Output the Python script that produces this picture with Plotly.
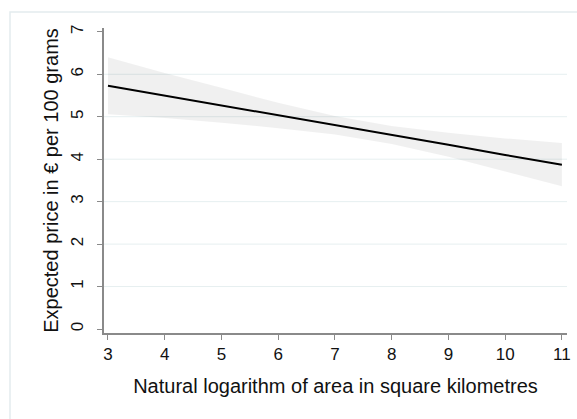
import plotly.graph_objects as go

# Data
x_vals = [3, 4, 5, 6, 7, 8, 9, 10, 11]
pred = [5.73, 5.50, 5.27, 5.03, 4.80, 4.57, 4.34, 4.10, 3.87]
ci_upper = [6.40, 6.03, 5.68, 5.33, 5.02, 4.78, 4.62, 4.49, 4.38]
ci_lower = [5.06, 4.97, 4.86, 4.73, 4.58, 4.36, 4.06, 3.71, 3.36]
x_ticks = [3, 4, 5, 6, 7, 8, 9, 10, 11]
y_ticks = [0, 1, 2, 3, 4, 5, 6, 7]
grid_vals = [1, 2, 3, 4, 5, 6]

W, H = 577, 419
L, R, T, B = 104, 10, 28, 86

fig = go.Figure()
fig.add_trace(go.Scatter(
    x=x_vals + x_vals[::-1], y=ci_upper + ci_lower[::-1],
    fill="toself", fillcolor="rgba(0,0,0,0.06)", line=dict(width=0),
    mode="lines", hoverinfo="skip", showlegend=False))
fig.add_trace(go.Scatter(
    x=x_vals, y=pred, mode="lines",
    line=dict(color="black", width=2), showlegend=False))

shapes = []
for g in grid_vals:
    shapes.append(dict(type="line", xref="paper", yref="y", x0=0, x1=1, y0=g, y1=g,
                       line=dict(color="#e6eff0", width=1), layer="below"))
# outer frame
pw = W - L - R
ph = H - T - B
fx0 = (10 - L) / pw
fy1 = 1 + (T - 12) / ph
shapes.append(dict(type="rect", xref="paper", yref="paper",
                   x0=fx0, x1=2, y0=-2, y1=fy1,
                   line=dict(color="#e3ecee", width=1.5), layer="below"))

fig.update_layout(
    width=W, height=H,
    margin=dict(l=L, r=R, t=T, b=B, autoexpand=False),
    paper_bgcolor="white", plot_bgcolor="rgba(0,0,0,0)",
    font=dict(family="Liberation Sans, Arial, sans-serif", color="#111111"),
    shapes=shapes,
    xaxis=dict(range=[2.93, 11.09], tickvals=x_ticks, ticks="outside", ticklen=5,
               tickcolor="#8a8a8a", showline=True, linecolor="#8a8a8a", linewidth=1.5,
               showgrid=False, zeroline=False, tickfont=dict(size=17), automargin=False,
               title=dict(text="Natural logarithm of area in square kilometres",
                          font=dict(size=20), standoff=16)),
    yaxis=dict(range=[-0.094, 7.09], tickvals=y_ticks, ticks="outside", ticklen=5,
               tickcolor="#8a8a8a", showline=True, linecolor="#8a8a8a", linewidth=1.5,
               showgrid=False, zeroline=False, tickfont=dict(size=17), tickangle=-90,
               ticklabelstandoff=7, automargin=False,
               title=dict(text="Expected price in € per 100 grams",
                          font=dict(size=20), standoff=4)),
)

fig.write_html("out.html", config={"displayModeBar": False},
               post_script="document.body.style.margin='0';document.body.style.overflow='hidden';")
